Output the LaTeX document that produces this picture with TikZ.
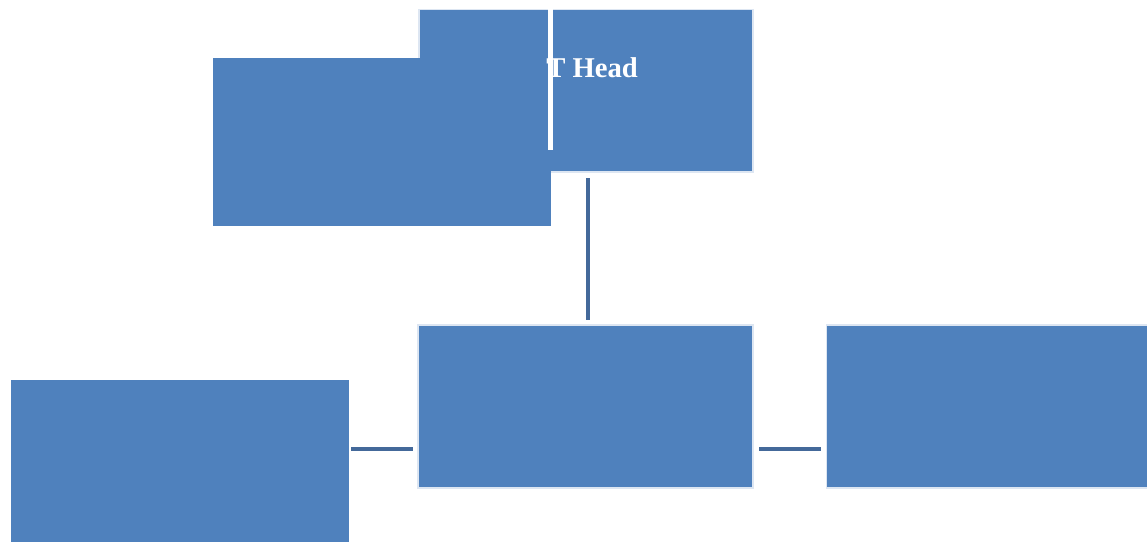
\documentclass[tikz,border=0pt]{standalone}
\usepackage{fontspec}
\setmainfont{Liberation Serif}
\definecolor{boxblue}{HTML}{4F81BD}
\definecolor{rimblue}{HTML}{DDE6F2}
\definecolor{linkblue}{HTML}{44699A}
\begin{document}
\begin{tikzpicture}[x=0.75pt,y=-0.75pt,
  card/.style={fill=boxblue,draw=none,inner sep=0pt,outer sep=0pt},
  rimcard/.style={card,draw=rimblue,line width=1.1pt},
  link/.style={draw=linkblue,line width=3.6pt}]
  \useasboundingbox (0,0) rectangle (1147,542);

  % head box and the box laid over its left part
  \node[rimcard,minimum width=334*0.75pt,minimum height=162.5*0.75pt] (head) at (586,90.75) {};
  \node[card,minimum width=338*0.75pt,minimum height=168*0.75pt] (over) at (382,142) {};
  \node[text=white,font=\bfseries\fontsize{21.5}{24}\selectfont,anchor=base west,inner sep=0pt] (title) at (546,78) {T Head};
  \fill[white] (547.5,9) rectangle (552.5,150);

  % lower row
  \node[rimcard,minimum width=335*0.75pt,minimum height=163*0.75pt] (mid) at (585.5,406.5) {};
  \node[rimcard,minimum width=322*0.75pt,minimum height=163*0.75pt] (right) at (987.5,406.5) {};
  \node[card,minimum width=338*0.75pt,minimum height=162*0.75pt] (left) at (180,461) {};

  % connectors
  \coordinate (col) at (588,0);
  \coordinate (row) at (0,449);
  \draw[link,shorten <=4.5pt,shorten >=3.8pt] (head.south -| col) -- (mid.north -| col);
  \draw[link,shorten <=1.5pt,shorten >=3.8pt] (left.east |- row) -- (mid.west |- row);
  \draw[link,shorten <=4.5pt,shorten >=3.8pt] (mid.east |- row) -- (right.west |- row);
\end{tikzpicture}
\end{document}
